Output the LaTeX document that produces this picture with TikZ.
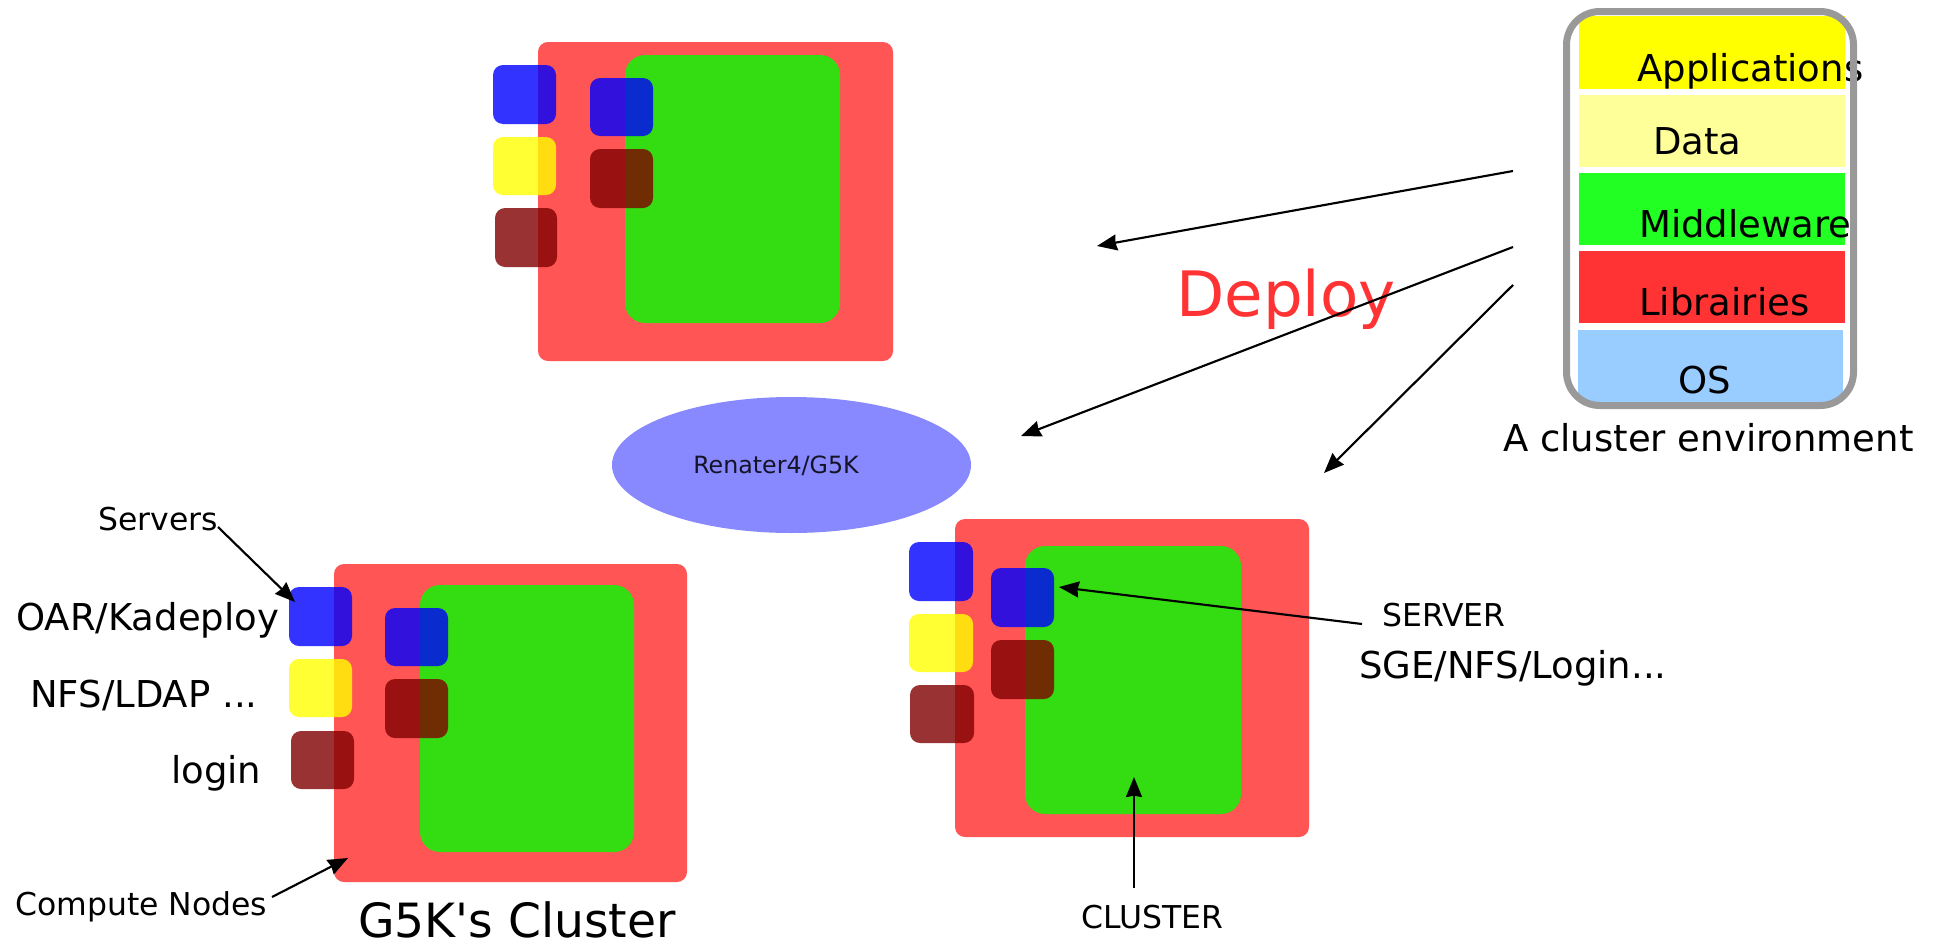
\documentclass[tikz,border=0pt]{standalone}
\usepackage{fontspec}
\setmainfont{DejaVu Sans}
\newfontfamily\plainvera{DejaVu Sans}
\usetikzlibrary{fit,arrows.meta,shapes.geometric}

\definecolor{chassis}{HTML}{FF5555}
\definecolor{computegreen}{HTML}{33DD11}
\definecolor{srvblue}{HTML}{0000FF}
\definecolor{srvyellow}{HTML}{FFFF00}
\definecolor{srvmaroon}{HTML}{800000}
\definecolor{appyellow}{HTML}{FFFF00}
\definecolor{datayellow}{HTML}{FFFF99}
\definecolor{mwgreen}{HTML}{22FF22}
\definecolor{libred}{HTML}{FF3333}
\definecolor{osblue}{HTML}{99CCFF}
\definecolor{framegray}{HTML}{999999}
\definecolor{netblue}{HTML}{8888FF}
\definecolor{deployred}{HTML}{FF3333}

\tikzset{
  area/.style={inner sep=0pt, outer sep=0pt},
  chassisbox/.style={area, fill=chassis, rounded corners=7.5pt},
  computebox/.style={area, fill=computegreen, rounded corners=15pt},
  srvbox/.style={area, fill=#1, fill opacity=0.8, rounded corners=7.5pt},
  band/.style={area, fill=#1},
  lbl/.style={inner sep=0pt, anchor=base west, font=\fontsize{27.75pt}{30pt}\selectfont},
  smalllbl/.style={inner sep=0pt, anchor=base west, font=\fontsize{23.6pt}{26pt}\selectfont},
  conn/.style={draw=black, line width=1.6pt, -{Stealth[length=15pt,width=12pt,inset=1pt]}},
}

\begin{document}
\begin{tikzpicture}[x=0.75pt,y=-0.75pt]
\useasboundingbox (0,0) rectangle (1939,946);

% ---- upper cluster
\node[chassisbox, fit={(538,42) (893,361)}] (tRed) {};
\node[computebox, fit={(625,55) (840,323)}] (tGreen) {};
\node[srvbox=srvblue, fit={(590,78) (653,136)}] (tBlueI) {};
\node[srvbox=srvmaroon, fit={(590,149) (653,208)}] (tDarkI) {};
\node[srvbox=srvblue, fit={(493,65) (556,124)}] (tBlueL) {};
\node[srvbox=srvyellow, fit={(493,137) (556,195)}] (tYellowL) {};
\node[srvbox=srvmaroon, fit={(495,208) (557,267)}] (tDarkL) {};

% ---- lower-left cluster
\node[chassisbox, fit={(334,564) (687,882)}] (lRed) {};
\node[computebox, fit={(420,585) (634,852)}] (lGreen) {};
\node[srvbox=srvblue, fit={(385,608) (448,666)}] (lBlueI) {};
\node[srvbox=srvmaroon, fit={(385,679) (448,738)}] (lDarkI) {};
\node[srvbox=srvblue, fit={(289,587) (352,646)}] (lBlueL) {};
\node[srvbox=srvyellow, fit={(289,659) (352,717)}] (lYellowL) {};
\node[srvbox=srvmaroon, fit={(291,731) (354,789)}] (lDarkL) {};

% ---- lower-right cluster
\node[chassisbox, fit={(955,519) (1309,837)}] (rRed) {};
\node[computebox, fit={(1025,546) (1241,814)}] (rGreen) {};
\node[srvbox=srvblue, fit={(991,568) (1054,627)}] (rBlueI) {};
\node[srvbox=srvmaroon, fit={(991,640) (1054,699)}] (rDarkI) {};
\node[srvbox=srvblue, fit={(909,542) (973,601)}] (rBlueL) {};
\node[srvbox=srvyellow, fit={(909,614) (973,672)}] (rYellowL) {};
\node[srvbox=srvmaroon, fit={(910,685) (974,743)}] (rDarkL) {};

% ---- network
\node[ellipse, fill=netblue, inner sep=0pt, minimum width=269.25pt, minimum height=102pt] (net) at (791.5,465) {};
\node[inner sep=0pt, anchor=base west, font=\fontsize{17.8pt}{20pt}\selectfont, text=black!85!netblue] (netlbl) at (693,473) {Renater4/G5K};

% ---- software stack of a cluster environment
\node[band=appyellow, fit={(1579,16) (1845,89)}] (bApp) {};
\node[band=datayellow, fit={(1579,95) (1845,167)}] (bData) {};
\node[band=mwgreen, fit={(1579,173) (1845,245)}] (bMw) {};
\node[band=libred, fit={(1579,251) (1845,323)}] (bLib) {};
\node[band=osblue, fit={(1578,330) (1843,402)}] (bOS) {};

\node[lbl] (tApp) at (1637,81) {Applications};
\node[lbl] (tData) at (1653,154) {Data};
\node[lbl] (tMw) at (1639,237) {Middleware};
\node[lbl] (tLib) at (1639,315) {Librairies};
\node[lbl] (tOS) at (1678,393) {OS};
\node[lbl] (tEnv) at (1503,451) {A cluster environment};

% the frame lies over the layer names
\node[area, fit={(1566.5,11.5) (1853.5,405.5)}, draw=framegray, line width=5.25pt, rounded corners=25pt] (envframe) {};

% ---- deployment
\node[inner sep=0pt, anchor=base west, font=\fontsize{47pt}{50pt}\selectfont, text=deployred] (deploy) at (1176,316) {Deploy};
\coordinate (d1s) at (1513,171);
\coordinate (d1e) at (1097,246);
\coordinate (d2s) at (1513,247);
\coordinate (d2e) at (1021,436);
\coordinate (d3s) at (1513,285);
\coordinate (d3e) at (1324,473);
\draw[conn] (d1s) -- (d1e);
\draw[conn] (d2s) -- (d2e);
\draw[conn] (d3s) -- (d3e);

% ---- labels of the lower-left cluster
\node[smalllbl] (servers) at (98,530) {Servers};
\node[lbl] (oar) at (16,630) {OAR/Kadeploy};
\node[lbl] (nfs) at (30,707) {NFS/LDAP ...};
\node[lbl] (login) at (171,783) {login};
\node[smalllbl] (compute) at (15,915) {Compute Nodes};
\node[inner sep=0pt, anchor=base west, font=\plainvera\fontsize{35.4pt}{38pt}\selectfont] (g5k) at (358,937) {G5K's Cluster};

\coordinate (srvTail) at (218,527);
\coordinate (srvTip) at (295,602);
\coordinate (cmpTail) at (272,897);
\coordinate (cmpTip) at (348,858);
\draw[conn] (srvTail) -- (srvTip);
\draw[conn] (cmpTail) -- (cmpTip);

% ---- labels of the lower-right cluster
\node[smalllbl] (serverlbl) at (1382,626) {SERVER};
\node[lbl] (sge) at (1359,678) {SGE/NFS/Login...};
\node[smalllbl] (clusterlbl) at (1081,928) {CLUSTER};

\coordinate (svTail) at (1362,624);
\coordinate (svTip) at (1059,587);
\coordinate (clTail) at (1134,888);
\coordinate (clTip) at (1134,777);
\draw[conn] (svTail) -- (svTip);
\draw[conn] (clTail) -- (clTip);
\end{tikzpicture}
\end{document}
